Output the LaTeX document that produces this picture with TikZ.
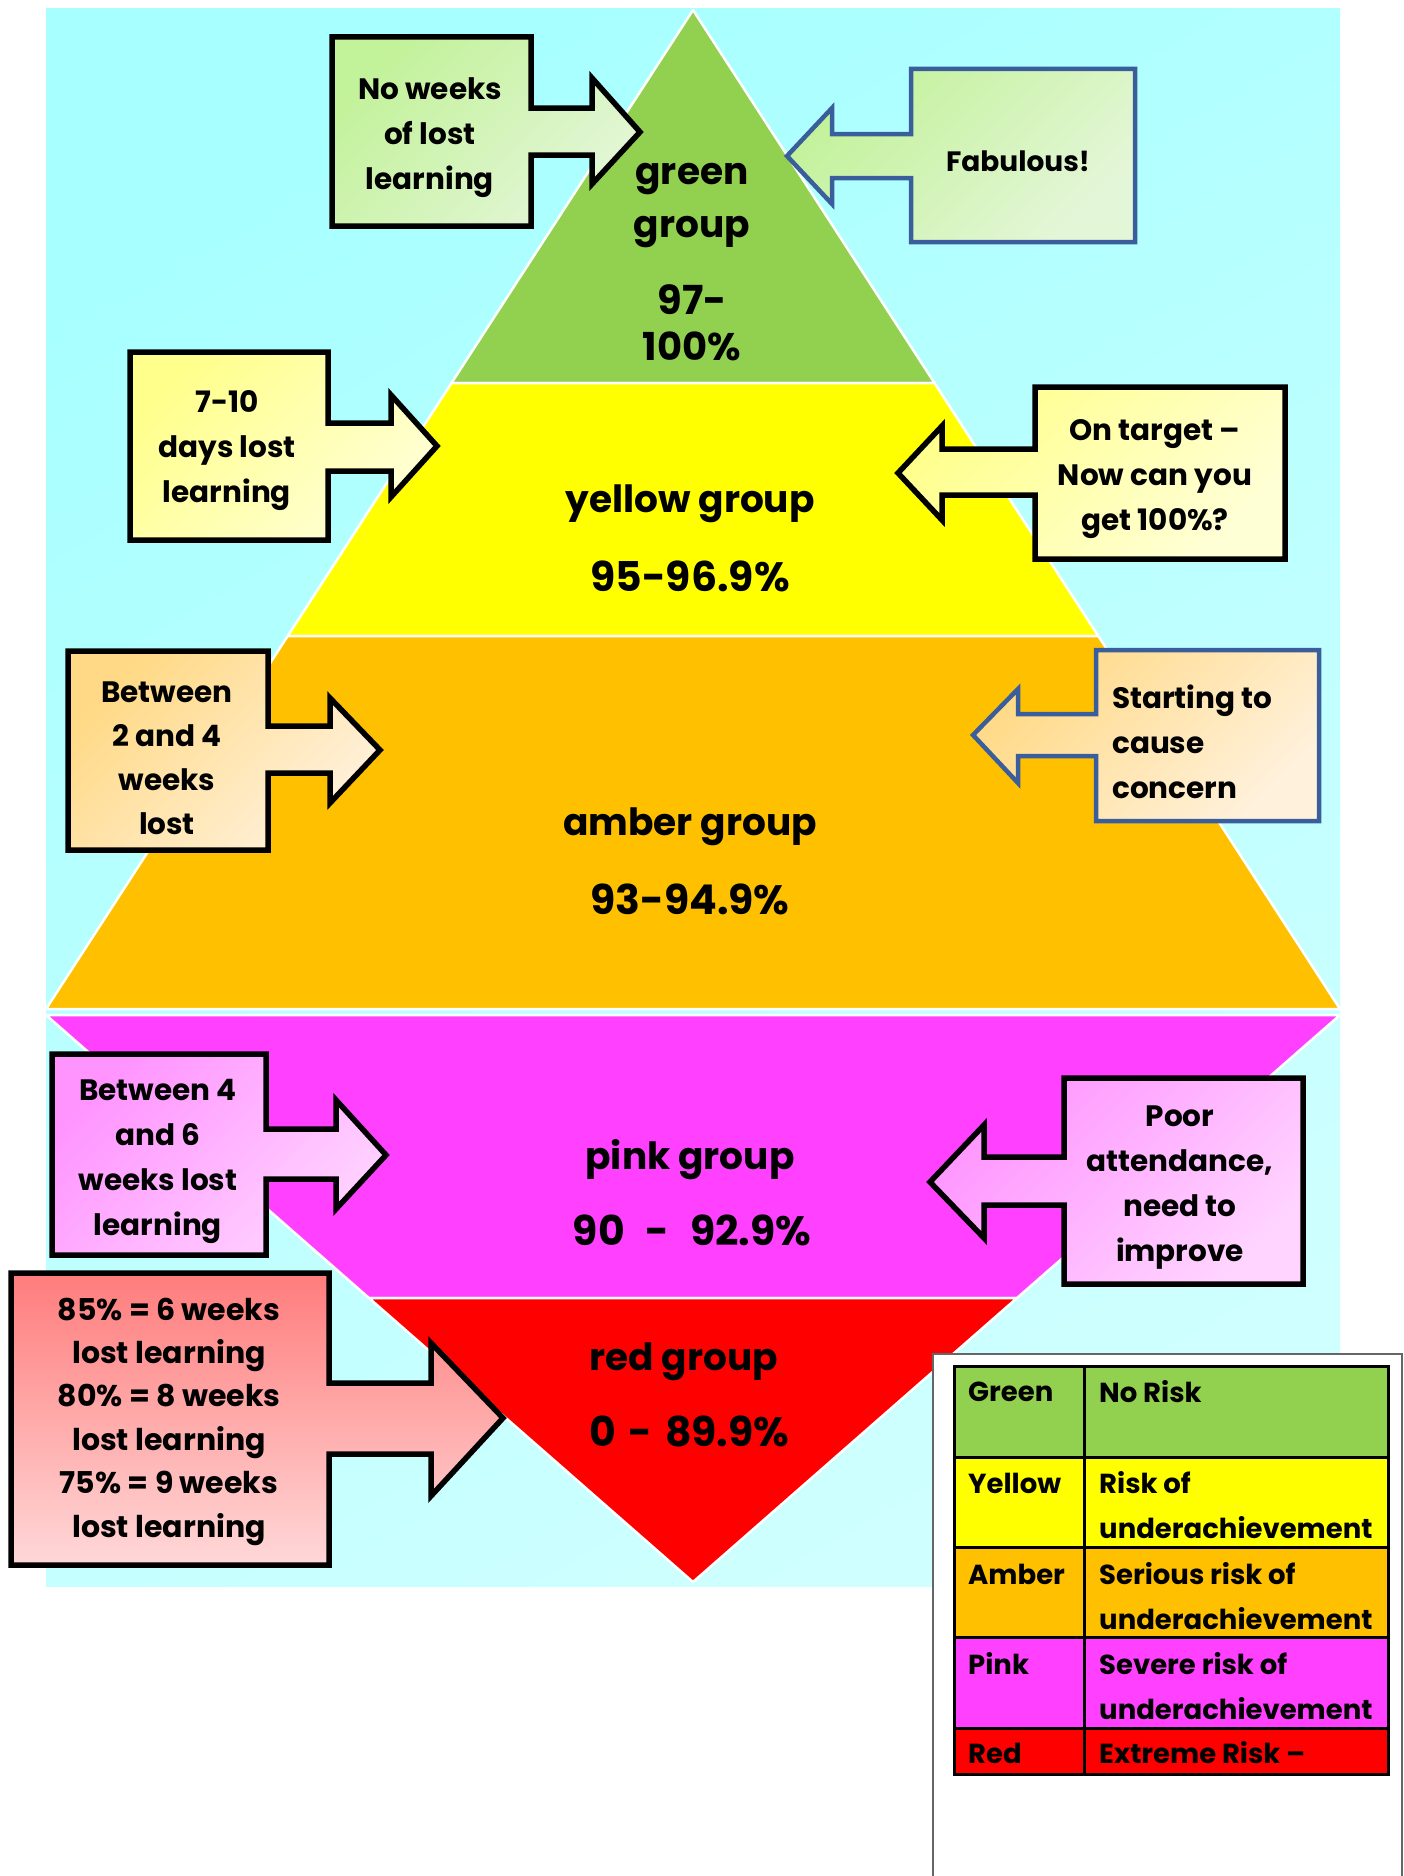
\documentclass[tikz,border=0pt]{standalone}
\usepackage{fontspec}
\setmainfont{Poppins}
\usetikzlibrary{calc}
\definecolor{bgA}{HTML}{A8FFFF}
\definecolor{bgB}{HTML}{CFFFFF}
\definecolor{grn}{HTML}{92D050}
\definecolor{yel}{HTML}{FFFF00}
\definecolor{amb}{HTML}{FFC000}
\definecolor{pnk}{HTML}{FF40FF}
\definecolor{rd}{HTML}{FF0000}
\definecolor{bluebd}{HTML}{3A5E9C}
\definecolor{gA}{HTML}{C2F29A}
\definecolor{gB}{HTML}{E4F6D8}
\definecolor{yA}{HTML}{FFFF8C}
\definecolor{yB}{HTML}{FFFFD6}
\definecolor{aA}{HTML}{FFD985}
\definecolor{aB}{HTML}{FFF1DC}
\definecolor{pA}{HTML}{FF94FF}
\definecolor{pB}{HTML}{FFD4FF}
\definecolor{rA}{HTML}{FF7C7C}
\definecolor{rB}{HTML}{FFD8D8}
\tikzset{
  band/.style={draw=white, line width=2.5pt, line join=round},
  lbl/.style={font=\fontsize{37.5}{44}\selectfont\bfseries, inner sep=0pt},
  num/.style={font=\fontsize{41}{48}\selectfont\bfseries, inner sep=0pt},
  btxt/.style={font=\fontsize{29.5}{45}\selectfont\bfseries, align=center, inner sep=0pt, yshift=-3pt},
  ltxt/.style={font=\fontsize{29.5}{45}\selectfont\bfseries, align=left, inner sep=0pt, anchor=west, yshift=-3pt},
  legtxt/.style={font=\fontsize{27.5}{45}\selectfont\bfseries, align=left, inner sep=0pt, anchor=west},
  blk/.style={draw=black, line width=5.5pt, line join=miter},
  blu/.style={draw=bluebd, line width=4.5pt, line join=miter},
  diag/.style 2 args={top color=#1, bottom color=#2, shading angle=45},
}
\begin{document}
\begin{tikzpicture}[x=1pt,y=-1pt]
\useasboundingbox (0,0) rectangle (1404,1876);
\fill[white] (0,0) rectangle (1404,1876);
% background
\shade[top color=bgA, bottom color=bgB, shading angle=30] (46,9) rectangle (1340,1586);
% pyramid bands
\path[band, fill=grn] (693,10) -- (934.5,383) -- (451.5,383) -- cycle;
\path[band, fill=yel] (451.5,383) -- (934.5,383) -- (1098.3,636) -- (287.7,636) -- cycle;
\path[band, fill=amb] (287.7,636) -- (1098.3,636) -- (1340,1009) -- (46,1009) -- cycle;
\path[band, fill=pnk] (46,1015) -- (1340,1015) -- (1017,1298) -- (369,1298) -- cycle;
\path[band, fill=rd] (369,1298) -- (1017,1298) -- (693,1582) -- cycle;
% group labels
\node[lbl] (g1) at (692,179) {green};
\node[lbl] (g2) at (692,232) {group};
\node[lbl, font=\fontsize{40}{48}\selectfont\bfseries] (g3) at (692,300) {97-};
\node[lbl, font=\fontsize{38.5}{48}\selectfont\bfseries] (g4) at (692,346) {100\%};
\node[lbl] (y1) at (690,504) {yellow group};
\node[num] (y2) at (690,576) {95-96.9\%};
\node[lbl] (a1) at (690,827) {amber group};
\node[num] (a2) at (690,899) {93-94.9\%};
\node[lbl] (p1) at (690,1160) {pink group};
\node[num] (p2) at (692,1230) {90\hspace{12pt} - \hspace{12pt}92.9\%};
\node[lbl, anchor=west] (r1) at (589,1362) {red group};
\node[num, anchor=west] (r2) at (589,1431) {0\hspace{4pt} - \hspace{4pt}89.9\%};
% callouts
% 1 no weeks (right)
\path[blk, diag={gA}{gB}] (332,37) -- (531,37) -- (531,108) -- (592,108) -- (592,78) -- (640,132) -- (592,184) -- (592,155) -- (531,155) -- (531,226) -- (332,226) -- cycle;
\node[btxt] (t1) at (430,135) {No weeks\\of lost\\learning};
% 2 fabulous (left)
\path[blu, diag={gA}{gB}] (1135,69) -- (911,69) -- (911,134) -- (832,134) -- (832,108) -- (787,156) -- (832,204) -- (832,178) -- (911,178) -- (911,242) -- (1135,242) -- cycle;
\node[btxt, font=\fontsize{28}{45}\selectfont\bfseries] (t2) at (1018,158) {Fabulous!};
% 3 7-10 (right)
\path[blk, diag={yA}{yB}] (130,352) -- (328,352) -- (328,423) -- (391,423) -- (391,395) -- (437,446) -- (391,497) -- (391,471) -- (328,471) -- (328,540) -- (130,540) -- cycle;
\node[btxt] (t3) at (227,448) {7-10\\days lost\\learning};
% 4 on target (left)
\path[blk, diag={yA}{yB}] (1285,387) -- (1035,387) -- (1035,449) -- (942,449) -- (942,426) -- (898,473) -- (942,520) -- (942,495) -- (1035,495) -- (1035,559) -- (1285,559) -- cycle;
\node[btxt] (t4) at (1155,476) {On target –\\Now can you\\get 100\%?};
% 5 between 2 and 4 (right)
\path[blk, diag={aA}{aB}] (68,651) -- (268,651) -- (268,726) -- (330,726) -- (330,698) -- (380,750) -- (330,803) -- (330,773) -- (268,773) -- (268,850) -- (68,850) -- cycle;
\node[btxt, font=\fontsize{29.5}{44}\selectfont\bfseries] (t5) at (167,755) {Between\\2 and 4\\weeks\\lost};
% 6 starting (left)
\path[blu, diag={aA}{aB}] (1319,650) -- (1096,650) -- (1096,714) -- (1018,714) -- (1018,689) -- (973,735) -- (1018,783) -- (1018,756) -- (1096,756) -- (1096,821) -- (1319,821) -- cycle;
\node[ltxt] (t6) at (1112,739) {Starting to\\cause\\concern};
% 7 between 4 and 6 (right)
\path[blk, diag={pA}{pB}] (52,1054) -- (266,1054) -- (266,1129) -- (336,1129) -- (336,1100) -- (386,1155) -- (336,1209) -- (336,1179) -- (266,1179) -- (266,1255) -- (52,1255) -- cycle;
\node[btxt] (t7) at (158,1158) {Between 4\\and 6\\weeks lost\\learning};
% 8 poor (left)
\path[blk, diag={pA}{pB}] (1303,1078) -- (1064,1078) -- (1064,1157) -- (984,1157) -- (984,1125) -- (930,1182) -- (984,1238) -- (984,1205) -- (1064,1205) -- (1064,1284) -- (1303,1284) -- cycle;
\node[btxt] (t8) at (1180,1185) {Poor\\attendance,\\need to\\improve};
% 9 85% (right)
\path[blk, top color=rA, bottom color=rB] (11,1273) -- (329,1273) -- (329,1383) -- (431,1383) -- (431,1343) -- (503,1418) -- (431,1496) -- (431,1454) -- (329,1454) -- (329,1565) -- (11,1565) -- cycle;
\node[btxt, font=\fontsize{30}{43.4}\selectfont\bfseries] (t9) at (169,1418.5) {85\% = 6 weeks\\lost learning\\80\% = 8 weeks\\lost learning\\75\% = 9 weeks\\lost learning};
% legend
\path[fill=white, draw=gray!80!black, line width=1.5pt] (933,1354) rectangle (1402,1890);
\fill[grn] (954,1366) rectangle (1388,1457);
\fill[yel] (954,1457) rectangle (1388,1547);
\fill[amb] (954,1547) rectangle (1388,1637);
\fill[pnk] (954,1637) rectangle (1388,1728);
\fill[rd] (954,1728) rectangle (1388,1774);
\draw[line width=3pt] (954,1366) rectangle (1388,1774);
\foreach \yy in {1457,1547,1637,1728} \draw[line width=3pt] (954,\yy) -- (1388,\yy);
\draw[line width=3pt] (1084,1366) -- (1084,1774);
\node[legtxt] (k1) at (968,1392) {Green};
\node[legtxt] (v1) at (1099,1392) {No Risk};
\node[legtxt] (k2) at (968,1483) {Yellow};
\node[legtxt] (v2) at (1099,1505.5) {Risk of\\underachievement};
\node[legtxt] (k3) at (968,1574) {Amber};
\node[legtxt] (v3) at (1099,1596.5) {Serious risk of\\underachievement};
\node[legtxt] (k4) at (968,1663) {Pink};
\node[legtxt] (v4) at (1099,1686) {Severe risk of\\underachievement};
\node[legtxt] (k5) at (968,1753) {Red};
\node[legtxt] (v5) at (1099,1753) {Extreme Risk –};
\end{tikzpicture}
\end{document}
